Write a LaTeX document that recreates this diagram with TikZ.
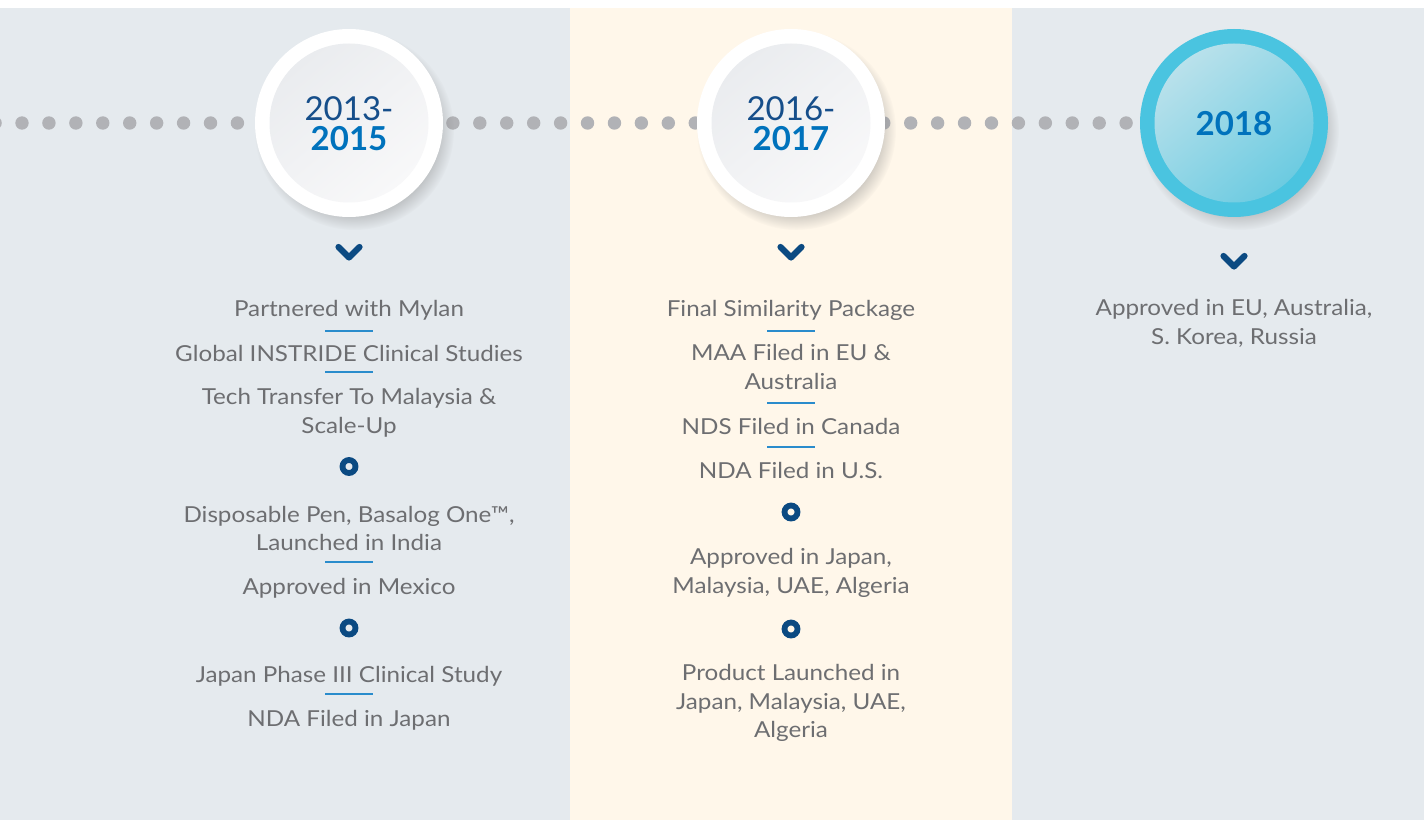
\documentclass[tikz,border=0pt]{standalone}
\usepackage{fontspec}
\setmainfont{Lato}
\newfontfamily\itemfont{Lato}[FakeStretch=1.1]
\usetikzlibrary{shadows,fadings}
\definecolor{panelgray}{HTML}{E5EAEE}
\definecolor{panelcream}{HTML}{FFF7EA}
\definecolor{dotgray}{HTML}{B1B2B6}
\definecolor{textgray}{HTML}{6D6E71}
\definecolor{sepblue}{HTML}{2A8CCC}
\definecolor{navy}{HTML}{0B4A82}
\definecolor{yeardark}{HTML}{164E8A}
\definecolor{yearblue}{HTML}{0072BC}
\definecolor{cyanring}{HTML}{4AC4E0}
\definecolor{cyanlight}{RGB}{185,225,235}
\definecolor{cyandeep}{RGB}{108,203,225}
\definecolor{discgray}{HTML}{EAECEF}
\definecolor{discwhite}{HTML}{F8F8F9}
\tikzset{
  outerdisc/.style={circle, minimum size=188pt, inner sep=0pt, draw=none,
    circular drop shadow={shadow xshift=5pt, shadow yshift=-7pt, shadow scale=1.06, opacity=0.35}},
  innerdisc/.style={circle, minimum size=159pt, inner sep=0pt, draw=none},
  yeartext/.style={align=center, font=\fontsize{33}{32}\selectfont, text=yeardark},
  item/.style={align=center, font=\itemfont\fontsize{22}{28.7}\selectfont, text=textgray, inner sep=0pt},
  sepline/.style={draw=sepblue, line width=1.5pt},
  chev/.style={draw=navy, line width=6.2pt, line cap=round, line join=round},
  ringmark/.style={draw=navy, line width=5.8pt},
}
\begin{document}
\begin{tikzpicture}[x=1pt,y=-1pt]
\useasboundingbox (0,0) rectangle (1424,821);
\fill[white] (0,0) rectangle (1424,821);
\fill[panelgray] (0,8) rectangle (570,820);
\fill[panelcream] (570,8) rectangle (1012,820);
\fill[panelgray] (1012,8) rectangle (1424,820);
% dotted timeline
\foreach \k in {-1,...,41} \fill[dotgray] ({22+26.93*\k},123) circle[radius=6.7pt];
% year circles
\node[outerdisc, fill=white] (c1) at (349,123) {};
\node[innerdisc, top color=discgray, bottom color=discwhite, shading angle=40] (c1i) at (c1) {};
\node[yeartext] (y1) at (349,124) {2013-\\[-2pt]\textbf{\textcolor{yearblue}{2015}}};
\node[outerdisc, fill=white] (c2) at (791,123) {};
\node[innerdisc, top color=discgray, bottom color=discwhite, shading angle=40] (c2i) at (c2) {};
\node[yeartext] (y2) at (791,124) {2016-\\[-2pt]\textbf{\textcolor{yearblue}{2017}}};
\node[outerdisc, fill=cyanring] (c3) at (1234,123) {};
\node[innerdisc, top color=cyanlight, bottom color=cyandeep, shading angle=40] (c3i) at (c3) {};
\node[yeartext, text=yearblue, font=\fontsize{33}{32}\selectfont\bfseries] (y3) at (1234,124) {2018};
% chevrons
\draw[chev] (338.5,247) -- (349,257.5) -- (359.5,247);
\draw[chev] (780.5,247) -- (791,257.5) -- (801.5,247);
\draw[chev] (1223.5,256) -- (1234,266.5) -- (1244.5,256);
% column 1
\node[item] (a1) at (349,310) {Partnered with Mylan};
\draw[sepline] (325,331) -- (373,331);
\node[item] (a2) at (349,353) {Global INSTRIDE Clinical Studies};
\draw[sepline] (325,372) -- (373,372);
\node[item] (a3) at (349,413) {Tech Transfer To Malaysia \&\\Scale-Up};
\draw[ringmark] (349,466.5) circle[radius=6.5pt];
\node[item] (a4) at (349,528.5) {Disposable Pen, Basalog One™,\\Launched in India};
\draw[sepline] (325,562) -- (373,562);
\node[item] (a5) at (349,588) {Approved in Mexico};
\draw[ringmark] (349,628) circle[radius=6.5pt];
\node[item] (a6) at (349,676) {Japan Phase III Clinical Study};
\draw[sepline] (325,694) -- (373,694);
\node[item] (a7) at (349,720) {NDA Filed in Japan};
% column 2
\node[item] (b1) at (791,310) {Final Similarity Package};
\draw[sepline] (767,331) -- (815,331);
\node[item] (b2) at (791,367) {MAA Filed in EU \&\\Australia};
\draw[sepline] (767,403) -- (815,403);
\node[item] (b3) at (791,426) {NDS Filed in Canada};
\draw[sepline] (767,447) -- (815,447);
\node[item] (b4) at (791,470) {NDA Filed in U.S.};
\draw[ringmark] (791,512) circle[radius=6.5pt];
\node[item] (b5) at (791,573) {Approved in Japan,\\Malaysia, UAE, Algeria};
\draw[ringmark] (791,629) circle[radius=6.5pt];
\node[item] (b6) at (791,703) {Product Launched in\\Japan, Malaysia, UAE,\\Algeria};
% column 3
\node[item] (d1) at (1234,323.5) {Approved in EU, Australia,\\S. Korea, Russia};
\end{tikzpicture}
\end{document}
